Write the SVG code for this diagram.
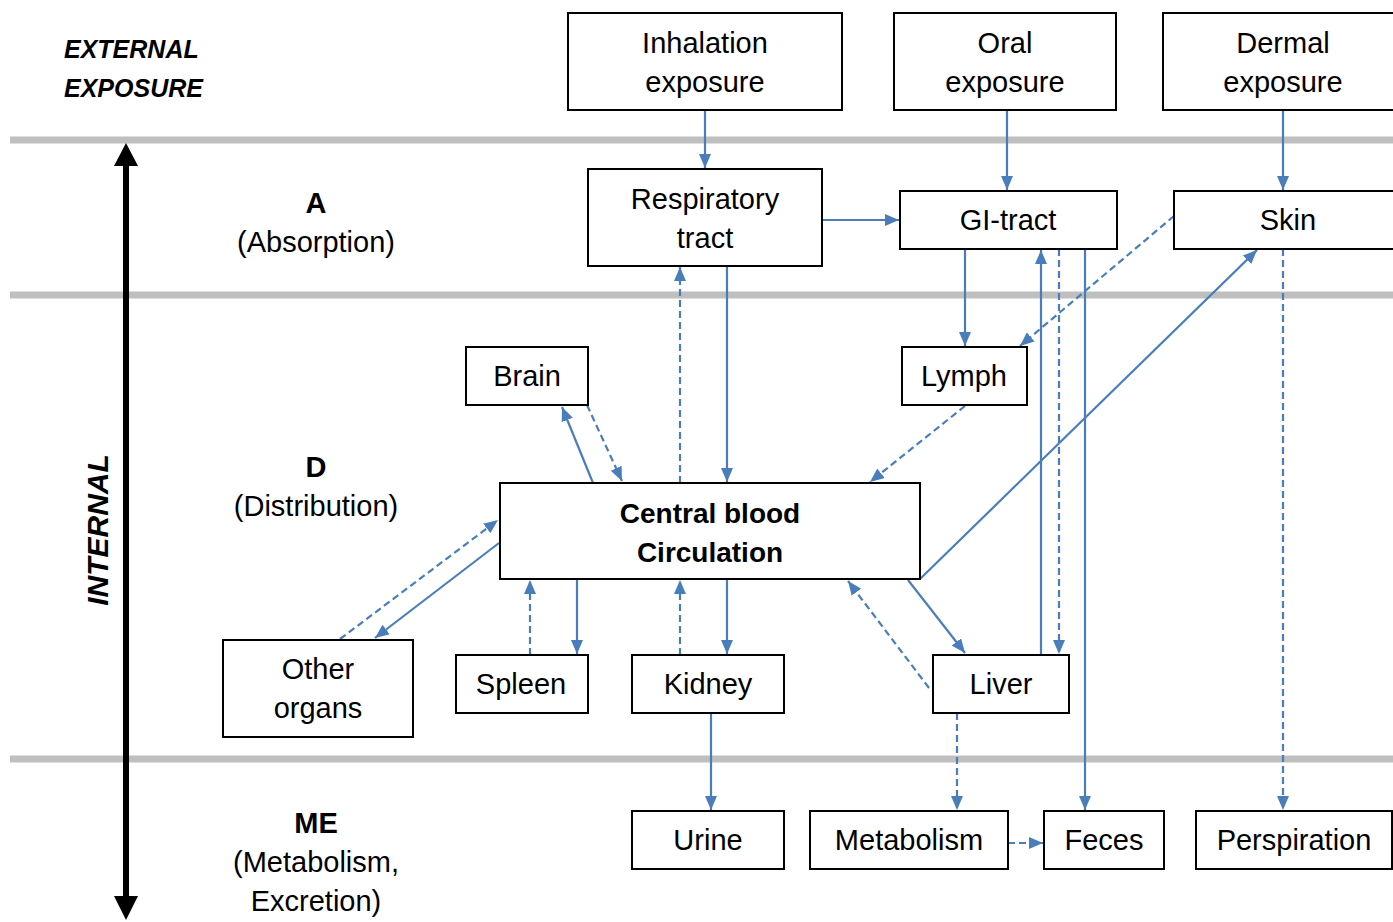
<svg xmlns="http://www.w3.org/2000/svg" width="1393" height="922" viewBox="0 0 1393 922">
<defs>
<style>
.box{fill:#fff;stroke:#000;stroke-width:2}
.t{font-family:"Liberation Sans",Arial,sans-serif;font-size:29px;fill:#000;text-anchor:middle;dominant-baseline:central}
.b{font-weight:bold}
.h{font-family:"Liberation Sans",Arial,sans-serif;font-size:25px;font-weight:bold;font-style:italic;fill:#000}
.band{stroke:#bfbfbf;stroke-width:7}
.c{fill:none;stroke:#4a7ebb;stroke-width:2.2;marker-end:url(#ah)}
.d{stroke-dasharray:7 4}
</style>
<marker id="ah" markerUnits="userSpaceOnUse" markerWidth="14" markerHeight="12" refX="14" refY="6" orient="auto">
<path d="M0,0 L14,6 L0,12 z" fill="#4a7ebb"/>
</marker>
<marker id="bh" markerUnits="userSpaceOnUse" markerWidth="26" markerHeight="24" refX="2" refY="12" orient="auto">
<path d="M0,0 L26,12 L0,24 z" fill="#000"/>
</marker>
</defs>
<rect width="1393" height="922" fill="#fff"/>
<g id="bands">
<line class="band" x1="10" y1="140" x2="1393" y2="140"/>
<line class="band" x1="10" y1="295" x2="1393" y2="295"/>
<line class="band" x1="10" y1="759" x2="1393" y2="759"/>
</g>
<g id="axis">
<line x1="126" y1="166" x2="126" y2="896" stroke="#000" stroke-width="6"/>
<path d="M126,143 L114,166 L138,166 z" fill="#000"/>
<path d="M126,920 L114,896 L138,896 z" fill="#000"/>
<text class="h" x="97" y="530" font-size="30" style="font-size:30px" text-anchor="middle" dominant-baseline="central" transform="rotate(-90 97 530)">INTERNAL</text>
</g>
<g id="labels">
<text class="h" x="64" y="58">EXTERNAL</text>
<text class="h" x="64" y="97">EXPOSURE</text>
<text class="t b" x="316" y="203">A</text>
<text class="t" x="316" y="242">(Absorption)</text>
<text class="t b" x="316" y="467">D</text>
<text class="t" x="316" y="506">(Distribution)</text>
<text class="t b" x="316" y="823">ME</text>
<text class="t" x="316" y="862">(Metabolism,</text>
<text class="t" x="316" y="901">Excretion)</text>
</g>
<g id="connectors">
<line class="c" x1="705" y1="111" x2="705" y2="168"/>
<line class="c" x1="1007" y1="111" x2="1007" y2="190"/>
<line class="c" x1="1283" y1="111" x2="1283" y2="190"/>
<line class="c" x1="822" y1="220" x2="899" y2="220"/>
<line class="c" x1="727" y1="266" x2="727" y2="482"/>
<line class="c d" x1="680" y1="483" x2="680" y2="267"/>
<line class="c" x1="965" y1="249" x2="965" y2="346"/>
<line class="c d" x1="1174" y1="216" x2="1020" y2="346"/>
<line class="c d" x1="965" y1="406" x2="870" y2="482"/>
<line class="c" x1="1041" y1="655" x2="1041" y2="250"/>
<line class="c d" x1="1059" y1="249" x2="1059" y2="654"/>
<line class="c" x1="1085" y1="249" x2="1085" y2="810"/>
<line class="c" x1="920" y1="579" x2="1257" y2="250"/>
<line class="c d" x1="1283" y1="249" x2="1283" y2="810"/>
<line class="c" x1="593" y1="483" x2="562" y2="407"/>
<line class="c d" x1="587" y1="405" x2="622" y2="481"/>
<line class="c d" x1="340" y1="639" x2="498" y2="520"/>
<line class="c" x1="499" y1="543" x2="375" y2="638"/>
<line class="c d" x1="530" y1="655" x2="530" y2="580"/>
<line class="c" x1="577" y1="579" x2="577" y2="654"/>
<line class="c d" x1="680" y1="655" x2="680" y2="580"/>
<line class="c" x1="727" y1="579" x2="727" y2="654"/>
<line class="c" x1="908" y1="580" x2="965" y2="653"/>
<line class="c d" x1="929" y1="688" x2="848" y2="581"/>
<line class="c" x1="711" y1="713" x2="711" y2="810"/>
<line class="c d" x1="957" y1="713" x2="957" y2="810"/>
<line class="c d" x1="1008" y1="843" x2="1043" y2="843"/>
</g>
<g id="n-inhalation"><rect class="box" x="568" y="13" width="274" height="97"/><text class="t" x="705" y="43">Inhalation</text><text class="t" x="705" y="82">exposure</text></g>
<g id="n-oral"><rect class="box" x="894" y="13" width="222" height="97"/><text class="t" x="1005" y="43">Oral</text><text class="t" x="1005" y="82">exposure</text></g>
<g id="n-dermal"><rect class="box" x="1163" y="13" width="232" height="97"/><text class="t" x="1283" y="43">Dermal</text><text class="t" x="1283" y="82">exposure</text></g>
<g id="n-resp"><rect class="box" x="588" y="169" width="234" height="97"/><text class="t" x="705" y="199">Respiratory</text><text class="t" x="705" y="238">tract</text></g>
<g id="n-gi"><rect class="box" x="900" y="191" width="217" height="58"/><text class="t" x="1008" y="220">GI-tract</text></g>
<g id="n-skin"><rect class="box" x="1174" y="191" width="221" height="58"/><text class="t" x="1288" y="220">Skin</text></g>
<g id="n-brain"><rect class="box" x="466" y="347" width="122" height="58"/><text class="t" x="527" y="376">Brain</text></g>
<g id="n-lymph"><rect class="box" x="902" y="347" width="125" height="58"/><text class="t" x="964" y="376">Lymph</text></g>
<g id="n-central"><rect class="box" x="500" y="483" width="420" height="96"/><text class="t b" x="710" y="513" style="font-size:28px">Central blood</text><text class="t b" x="710" y="552" style="font-size:28px">Circulation</text></g>
<g id="n-other"><rect class="box" x="223" y="640" width="190" height="97"/><text class="t" x="318" y="669">Other</text><text class="t" x="318" y="708">organs</text></g>
<g id="n-spleen"><rect class="box" x="456" y="655" width="132" height="58"/><text class="t" x="521" y="684">Spleen</text></g>
<g id="n-kidney"><rect class="box" x="632" y="655" width="152" height="58"/><text class="t" x="708" y="684">Kidney</text></g>
<g id="n-liver"><rect class="box" x="933" y="655" width="136" height="58"/><text class="t" x="1001" y="684">Liver</text></g>
<g id="n-urine"><rect class="box" x="632" y="811" width="152" height="58"/><text class="t" x="708" y="840">Urine</text></g>
<g id="n-metabolism"><rect class="box" x="810" y="811" width="198" height="58"/><text class="t" x="909" y="840">Metabolism</text></g>
<g id="n-feces"><rect class="box" x="1044" y="811" width="120" height="58"/><text class="t" x="1104" y="840">Feces</text></g>
<g id="n-perspiration"><rect class="box" x="1196" y="811" width="196" height="58"/><text class="t" x="1294" y="840">Perspiration</text></g>
</svg>
